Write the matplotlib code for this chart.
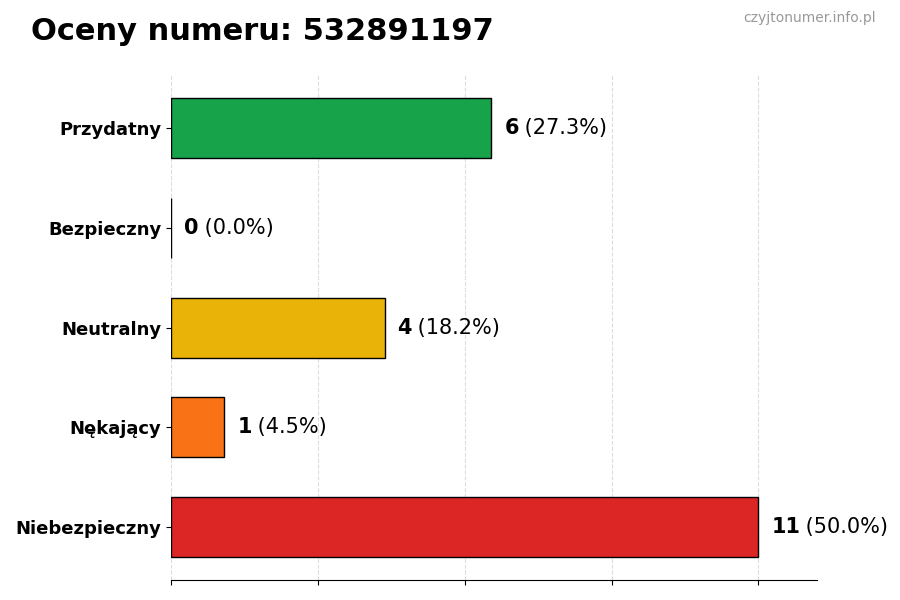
import matplotlib
matplotlib.use('Agg')
import matplotlib.pyplot as plt
import numpy as np

categories = ['Niebezpieczny', 'Nękający', 'Neutralny', 'Bezpieczny', 'Przydatny']
counts = [11, 1, 4, 0, 6]
colors = ['#dc2626', '#f97316', '#eab308', '#16a34a', '#16a34a']
number = '532891197'

total = sum(counts)
max_val = max(counts)

fig = plt.figure(figsize=(9, 6), dpi=100)
ax = fig.add_axes([0.19, 0.033, 0.718, 0.842])

y = np.arange(len(categories))
ax.barh(y, counts, height=0.6, color=colors, edgecolor='black', linewidth=1, zorder=2)

for yi, c in zip(y, counts):
    pct = c / total * 100
    t = ax.text(c + max_val * 0.022, yi, f'{c}', fontsize=15, fontweight='bold', va='center', ha='left')
    fig.canvas.draw()
    bb = t.get_window_extent()
    inv = ax.transData.inverted()
    x_end = inv.transform((bb.x1, bb.y0))[0]
    ax.text(x_end, yi, f' ({pct:.1f}%)', fontsize=15, va='center', ha='left')

ax.set_yticks(y)
ax.set_yticklabels(categories, fontsize=13, fontweight='bold')
ax.set_xlim(0, max_val * 1.1)
ax.set_xticks(np.linspace(0, max_val, 5))
ax.set_xticklabels([])
ax.grid(axis='x', linestyle='--', color='#bbbbbb', alpha=0.5, zorder=3)
for s in ['top', 'right', 'left']:
    ax.spines[s].set_visible(False)

fig.text(0.034, 0.948, f'Oceny numeru: {number}', fontsize=22, fontweight='bold', va='center')
fig.text(0.973, 0.97, 'czyjtonumer.info.pl', fontsize=10, color='#999999', ha='right', va='center')

fig.savefig('out.png', dpi=100)
